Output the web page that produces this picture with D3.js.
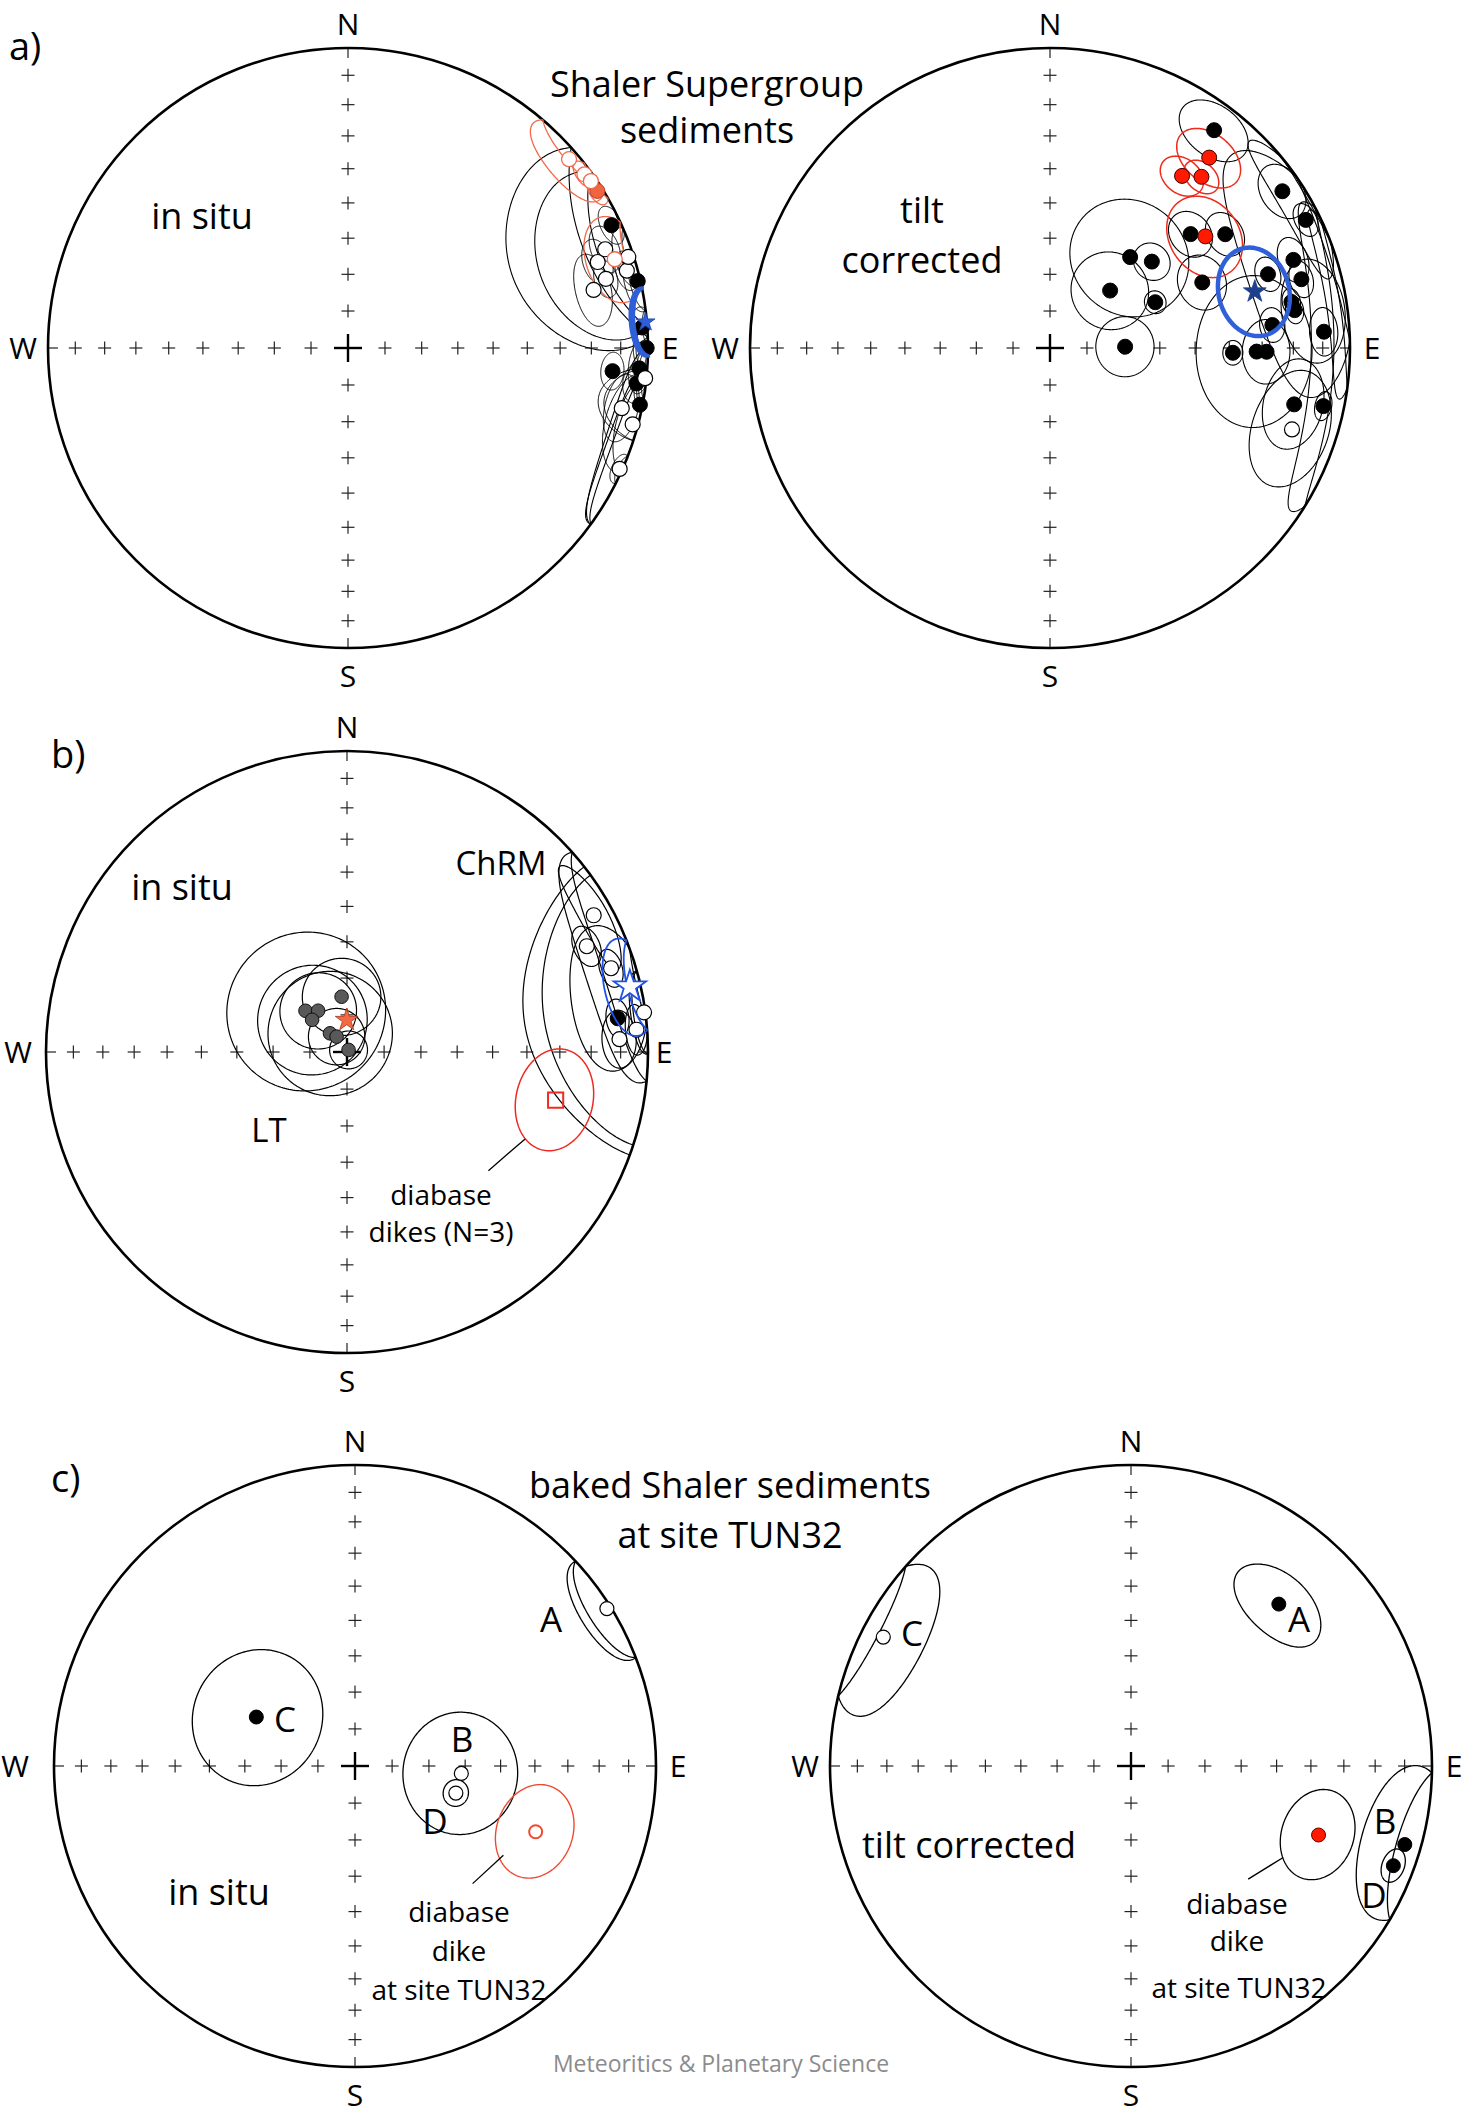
<!DOCTYPE html>
<html>
<head>
<meta charset="utf-8">
<script src="https://cdn.jsdelivr.net/npm/d3@7"></script>
<style>
  body { margin: 0; background: #fff; }
  svg { font-family: "Open Sans", sans-serif; }
</style>
</head>
<body>
<svg id="fig" width="1481" height="2116"></svg>
<script>
// site directions: [declination, inclination, semi-angle along inc, semi-angle along dec, rotation]
// negative inclination = upper hemisphere (open symbol)
const aInSitu = [
  [65, 3.5, 4, 4], [77, 1, 5, 6], [86, 2, 4, 4], [90, 0.5, 5, 5], [95, 12.5, 4, 4],
  [94, 3, 4, 5], [97, 3.5, 5, 4], [71, -13, 5, 5], [74.5, -4, 4, 4], [76.7, -17, 6, 8],
  [95.8, -0.5, 4, 6], [102.4, -7.3, 6, 7], [114, -1, 3, 3], [75, -12, 4, 4], [69, -9, 5, 5],
  [72, -2, 5, 6], [101, 1, 15, 7], [105, -2, 10, 10]
];
const aInSituCones = [[68, 12, 28, 22], [70, 10, 22, 18], [108, 0, 10, 18], [110, 1, 8, 16]];
const aInSituRed = [[57.8, 2, 3, 3], [49.5, -3.5, 8, 10], [53.7, -2.5, 3, 3], [55.5, -2, 2.5, 2.5], [71.6, -7, 10, 9]];
const aInSituMean = [85, 0.5, 5.5, 6.5];

const aTilt = [
  [37, 10, 9, 8], [56, 7.3, 7.5, 6], [63.4, 5.2, 4, 3.5], [51, 39.5, 6, 6], [57, 31, 5.5, 5.5],
  [41.4, 56.8, 16, 16], [49.7, 53.3, 5, 5], [46.3, 67.4, 10.5, 10.5], [66.5, 58.6, 3, 3], [66.7, 44, 7, 7],
  [89, 69.6, 8, 8], [71.3, 24.3, 4, 4], [70.1, 14.8, 5, 5], [74.7, 14.2, 4, 4], [79.2, 19.2, 3, 3],
  [81.2, 18.6, 3, 3], [84.1, 26.4, 4, 4], [86.6, 9.4, 5, 5], [91.5, 38.9, 3, 3], [91, 31.7, 18, 18],
  [91, 28.6, 7.5, 7.5], [103, 17.6, 10, 10], [102, 7.6, 3, 3], [108.6, -16, 13, 13]
];
const aTiltCones = [[72, 14, 17, 28], [81, 2.5, 5, 19], [60, 5, 6, 16], [82, 12, 11, 11], [92, 4, 10, 32]];
const aTiltRed = [[39.9, 18.4, 8, 8], [37.5, 28.5, 5.5, 5.5], [41.5, 24.8, 4.5, 4.5], [54.3, 36.4, 10.5, 10.5]];
const aTiltMean = [74.6, 29.9, 11, 10.5];

const bLT = [
  [354.4, 75, 10.5, 10.5], [314.8, 74.2, 21.5, 21.5], [325, 76.4, 10.3, 10.3], [312.7, 77.2, 14.8, 14.8],
  [317.7, 83.2, 16.8, 16.8], [326, 85, 7.6, 7.6], [37, 89.3, 5.1, 5.1]
];
const bLTMean = [359.5, 81.4];
const bChRM = [[61, -7, 5, 12], [66.2, -14, 4.5, 4.5], [72.4, -8.8, 4, 4], [82.4, -0.5, 5, 8],
  [82.9, 10.3, 4, 4], [85.6, -4, 4, 5], [87.3, -10.3, 6, 6]];
const bChRMCones = [[81, 0, 40, 29], [81, 0, 34, 27], [78.4, 11.6, 13, 15.5, -15], [72, -3, 15, 24]];
const bChRMMean = [77, -4, 9, 9.8];
const bDikes = [103, 29.6, 12, 12];

const cInSitu = [[58, -1.5, 10, 11], [94, -61, 16, 16], [105, -61.6, 3.5, 3.5], [296.4, 60, 18, 18]];
const cInSituDike = [110, -36.3, 11.5, 11.5];
const cTilt = [[42.4, 28, 9.5, 12], [297.5, -8, 14, 17], [106, 6, 15, 16], [110.8, 7.5, 4, 3.5]];
const cTiltDike = [110.2, 34, 11, 11];

// leader lines, [dec, inc] at both ends
const leaders = { b: [[116, 34.5], [130, 38.6]], cL: [[121, 42], [135, 44]], cR: [[121, 40.7], [134, 45]] };

const incTicks = [10, 20, 30, 40, 50, 60, 70, 80];
const compass = [["N", 0], ["E", 90], ["S", 180], ["W", 270]];

const rad = Math.PI / 180;
const svg = d3.select("#fig");

function makeNet(cx, cy, R, wOff = 25, eOff = 22) {
  // Schmidt (equal-area) net: r = R * sqrt(1 - sin|inc|)
  const r = d3.scaleSqrt().domain([0, 1]).range([0, R]);
  return {
    cx, cy, R, wOff, eOff,
    proj: (dec, inc) => {
      const d = r(1 - Math.sin(Math.abs(inc) * rad));
      return [cx + d * Math.sin(dec * rad), cy - d * Math.cos(dec * rad)];
    }
  };
}

const nets = {
  aL: makeNet(348, 348, 300),
  aR: makeNet(1050, 348, 300),
  b: makeNet(347, 1052, 301, 28, 16),
  cL: makeNet(355, 1766, 301, 39),
  cR: makeNet(1131, 1766, 301)
};

// confidence ellipse around a direction, points on the sphere
function cone(dec, inc, a, b, rot = 0) {
  const D = dec * rad, I = inc * rad, t0 = rot * rad;
  const c = [Math.cos(I) * Math.cos(D), Math.cos(I) * Math.sin(D), Math.sin(I)];
  const ei = [-Math.sin(I) * Math.cos(D), -Math.sin(I) * Math.sin(D), Math.cos(I)];
  const ed = [-Math.sin(D), Math.cos(D), 0];
  const u = ei.map((v, k) => Math.cos(t0) * v + Math.sin(t0) * ed[k]);
  const w = ei.map((v, k) => -Math.sin(t0) * v + Math.cos(t0) * ed[k]);
  return d3.range(0, 360, 1.5).map(t => {
    const off = u.map((v, k) => a * rad * Math.cos(t * rad) * v + b * rad * Math.sin(t * rad) * w[k]);
    const rho = Math.hypot(...off);
    const p = c.map((v, k) => v * Math.cos(rho) + off[k] / rho * Math.sin(rho));
    return [Math.atan2(p[1], p[0]) / rad, Math.asin(Math.max(-1, Math.min(1, p[2]))) / rad];
  });
}

const closed = d3.line().curve(d3.curveLinearClosed);

function drawNet(net) {
  const g = svg.append("g");
  const { cx, cy, R } = net;
  const tick = g.append("g").attr("stroke", "#222").attr("stroke-width", 1.2);
  compass.forEach(([, az]) => {
    incTicks.forEach(i => {
      const [x, y] = net.proj(az, i);
      tick.append("line").attr("x1", x - 6.5).attr("x2", x + 6.5).attr("y1", y).attr("y2", y);
      tick.append("line").attr("x1", x).attr("x2", x).attr("y1", y - 6.5).attr("y2", y + 6.5);
    });
    const [x0, y0] = net.proj(az, 0);
    const ux = (cx - x0) / R, uy = (cy - y0) / R;
    tick.append("line").attr("x1", x0).attr("y1", y0).attr("x2", x0 + ux * 10).attr("y2", y0 + uy * 10);
  });
  g.append("line").attr("x1", cx - 14).attr("x2", cx + 14).attr("y1", cy).attr("y2", cy)
    .attr("stroke", "#000").attr("stroke-width", 2.4);
  g.append("line").attr("x1", cx).attr("x2", cx).attr("y1", cy - 14).attr("y2", cy + 14)
    .attr("stroke", "#000").attr("stroke-width", 2.4);
  g.append("circle").attr("cx", cx).attr("cy", cy).attr("r", R)
    .attr("fill", "none").attr("stroke", "#000").attr("stroke-width", 2.6);

  const lab = g.append("g").attr("font-size", 30).attr("text-anchor", "middle").attr("fill", "#000");
  lab.append("text").attr("x", cx).attr("y", cy - R - 13).text("N");
  lab.append("text").attr("x", cx).attr("y", cy + R + 39).text("S");
  lab.append("text").attr("x", cx - R - net.wOff).attr("y", cy + 11).text("W");
  lab.append("text").attr("x", cx + R + net.eOff).attr("y", cy + 11).text("E");
}

function drawCones(net, rows, color, width) {
  const g = svg.append("g").attr("fill", "none").attr("stroke", color).attr("stroke-width", width);
  rows.forEach(s => {
    g.append("path").attr("d", closed(cone(s[0], s[1], s[2], s[3], s[4] || 0).map(q => net.proj(q[0], q[1]))));
  });
}

function drawDots(net, rows, st) {
  const g = svg.append("g");
  rows.forEach(s => {
    const [x, y] = net.proj(s[0], s[1]);
    const open = s[1] < 0;
    g.append("circle").attr("cx", x).attr("cy", y).attr("r", st.r || 7.5)
      .attr("fill", open ? "#fff" : st.fill)
      .attr("stroke", open ? st.openStroke : st.stroke)
      .attr("stroke-width", open ? (st.openWidth || 1.2) : 1);
  });
}

function drawStar(net, d, size, fill, stroke, sw) {
  const [x, y] = net.proj(d[0], d[1]);
  svg.append("path").attr("d", d3.symbol(d3.symbolStar, size)())
    .attr("transform", `translate(${x},${y})`)
    .attr("fill", fill).attr("stroke", stroke).attr("stroke-width", sw);
}

function drawLeader(net, seg) {
  const [p, q] = seg.map(d => net.proj(d[0], d[1]));
  svg.append("line").attr("x1", p[0]).attr("y1", p[1]).attr("x2", q[0]).attr("y2", q[1])
    .attr("stroke", "#000").attr("stroke-width", 1.3);
}

Object.values(nets).forEach(drawNet);

const black = { fill: "#000", stroke: "#000", openStroke: "#000" };

// a) in situ
drawCones(nets.aL, aInSituCones, "#000", 1.1);
drawCones(nets.aL, aInSitu, "#000", 1);
drawCones(nets.aL, aInSituRed, "#f26a4b", 1.3);
drawDots(nets.aL, aInSitu, black);
drawDots(nets.aL, aInSituRed, { fill: "#f2643f", stroke: "#b8402a", openStroke: "#f26a4b", openWidth: 1.3 });
drawCones(nets.aL, [aInSituMean], "#2e5fd8", 4);
drawStar(nets.aL, aInSituMean, 112, "#2e5fd8", "#1d45b0", 0.8);

// a) tilt corrected
drawCones(nets.aR, aTiltCones, "#000", 1.1);
drawCones(nets.aR, aTilt, "#000", 1.1);
drawCones(nets.aR, aTiltRed, "#ee2a1b", 1.5);
drawDots(nets.aR, aTilt, black);
drawDots(nets.aR, aTiltRed, { fill: "#ff1a00", stroke: "#400", openStroke: "#ee2a1b" });
drawCones(nets.aR, [aTiltMean], "#2f5fd9", 4.5);
drawStar(nets.aR, aTiltMean, 162, "#1e3f8c", "#1e3f8c", 0.8);

// b) LT and ChRM
drawCones(nets.b, bLT, "#000", 1.2);
drawDots(nets.b, bLT, { fill: "#595959", stroke: "#111", openStroke: "#111", r: 6.8 });
drawStar(nets.b, bLTMean, 162, "#f26a43", "#a8391f", 0.8);
drawCones(nets.b, bChRMCones, "#000", 1.2);
drawCones(nets.b, bChRM, "#000", 1.2);
drawDots(nets.b, bChRM, black);
drawCones(nets.b, [bChRMMean], "#1f52e6", 1.8);
drawStar(nets.b, bChRMMean, 325, "#fff", "#1f52e6", 1.8);
drawCones(nets.b, [bDikes], "#ee2a22", 1.5);
{
  const [x, y] = nets.b.proj(bDikes[0], bDikes[1]);
  svg.append("path").attr("d", d3.symbol(d3.symbolSquare, 230)()).attr("transform", `translate(${x},${y})`)
    .attr("fill", "none").attr("stroke", "#ee2a22").attr("stroke-width", 2);
}
drawLeader(nets.b, leaders.b);

// c) in situ
drawCones(nets.cL, cInSitu, "#000", 1.3);
drawDots(nets.cL, cInSitu, { fill: "#000", stroke: "#000", openStroke: "#000", r: 7 });
drawCones(nets.cL, [cInSituDike], "#ef4a30", 1.4);
drawDots(nets.cL, [cInSituDike], { fill: "#ef4a30", stroke: "#ef4a30", openStroke: "#ef4a30", openWidth: 2, r: 6.5 });
drawLeader(nets.cL, leaders.cL);

// c) tilt corrected
drawCones(nets.cR, cTilt, "#000", 1.3);
drawDots(nets.cR, cTilt, { fill: "#000", stroke: "#000", openStroke: "#000", r: 7 });
drawCones(nets.cR, [cTiltDike], "#000", 1.3);
drawDots(nets.cR, [cTiltDike], { fill: "#ff1a00", stroke: "#600", openStroke: "#600", r: 7 });
drawLeader(nets.cR, leaders.cR);

// text
const notes = [
  ["a)", 9, 60, 38, "start"], ["b)", 51, 768, 38, "start"], ["c)", 51, 1492, 38, "start"],
  ["Shaler Supergroup", 707, 97, 36], ["sediments", 707, 143, 36],
  ["in situ", 202, 229, 36], ["tilt", 922, 223, 36], ["corrected", 922, 273, 36],
  ["in situ", 182, 900, 36], ["ChRM", 501, 875, 33], ["LT", 269, 1142, 33],
  ["diabase", 441, 1205, 28], ["dikes (N=3)", 441, 1242, 28],
  ["baked Shaler sediments", 730, 1498, 36], ["at site TUN32", 730, 1548, 36],
  ["A", 551, 1632, 35], ["C", 285, 1732, 35], ["B", 462, 1752, 35], ["D", 435, 1834, 35],
  ["in situ", 219, 1905, 36], ["diabase", 459, 1922, 28], ["dike", 459, 1961, 28], ["at site TUN32", 459, 2000, 28],
  ["C", 912, 1646, 35], ["A", 1299, 1632, 35], ["B", 1385, 1834, 35], ["D", 1374, 1908, 35],
  ["tilt corrected", 969, 1858, 36], ["diabase", 1237, 1914, 28], ["dike", 1237, 1951, 28], ["at site TUN32", 1239, 1998, 28]
];
svg.append("g").selectAll("text").data(notes).join("text")
  .attr("x", d => d[1]).attr("y", d => d[2]).attr("font-size", d => d[3])
  .attr("text-anchor", d => d[4] || "middle").attr("fill", "#000")
  .text(d => d[0]);

svg.append("text").attr("x", 721).attr("y", 2072).attr("font-size", 23).attr("text-anchor", "middle")
  .attr("fill", "#8c8c8c").text("Meteoritics & Planetary Science");
</script>
</body>
</html>
